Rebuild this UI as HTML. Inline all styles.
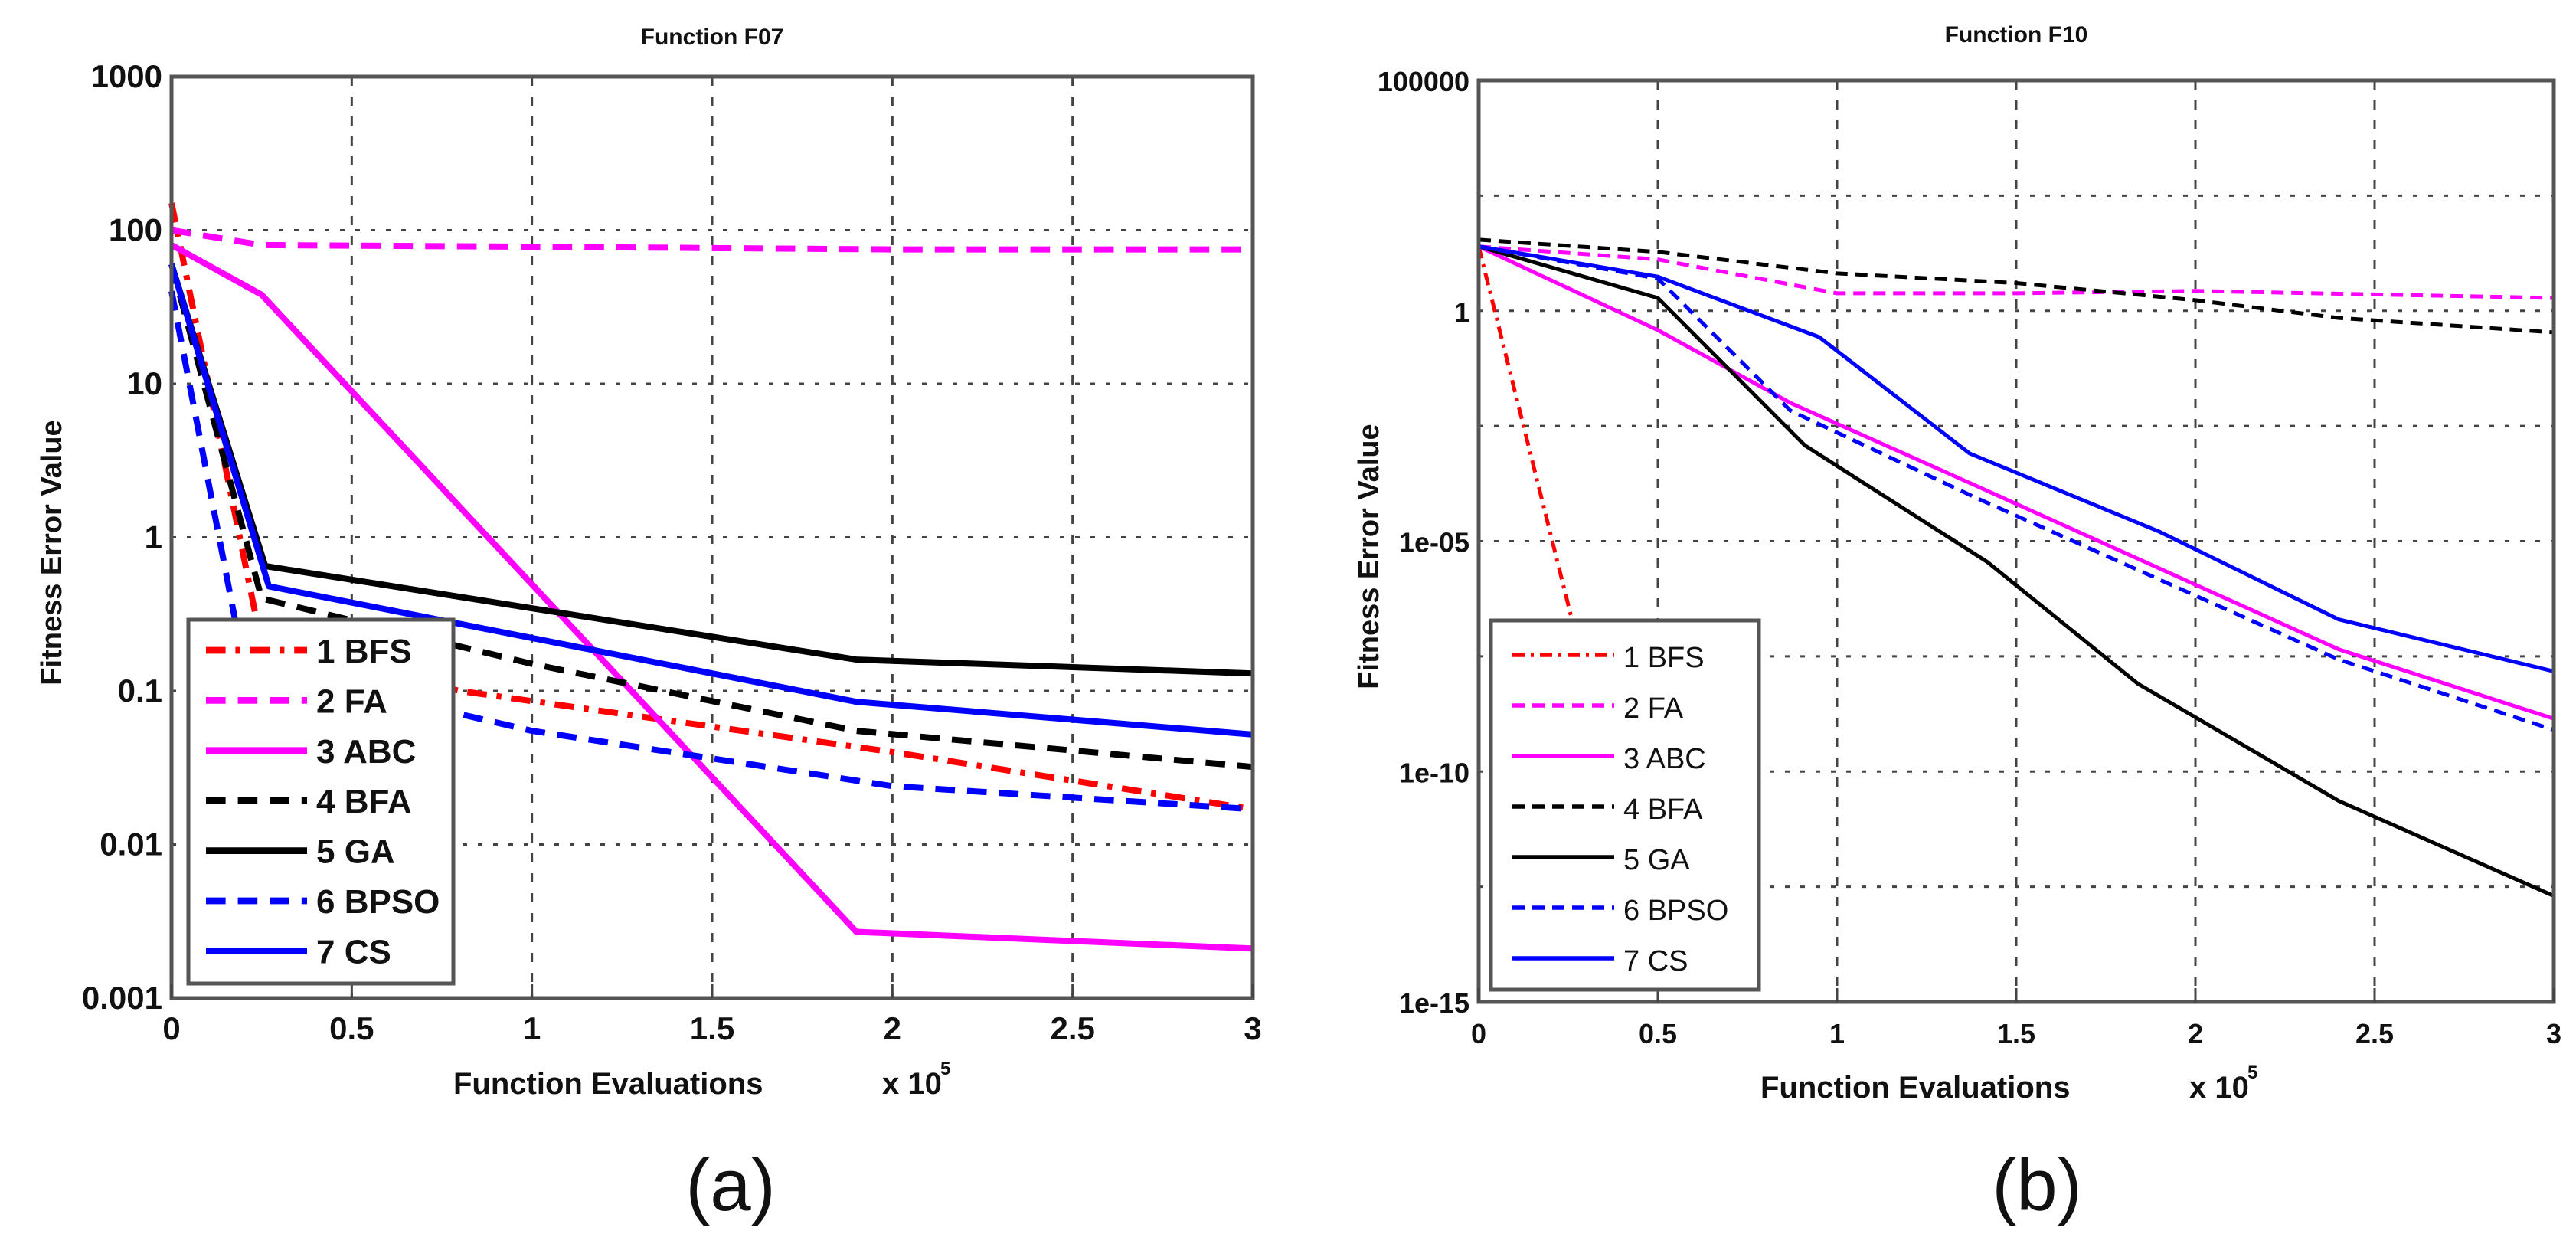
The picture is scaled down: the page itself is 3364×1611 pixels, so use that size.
<!DOCTYPE html>
<html><head><meta charset="utf-8"><style>
html,body{margin:0;padding:0;background:#fff;}
svg{display:block;}
text{font-family:"Liberation Sans Narrow","Liberation Sans",sans-serif;}
</style></head><body>
<svg id="fig" width="3364" height="1611" viewBox="0 0 3364 1611" xmlns="http://www.w3.org/2000/svg">
<g id="pa"></g>
<g id="pb"></g>
</svg>
<script>
// ---------- data ----------
const seriesNames = ["1 BFS","2 FA","3 ABC","4 BFA","5 GA","6 BPSO","7 CS"];
const seriesColors = ["#ff0000","#ff00ff","#ff00ff","#000000","#000000","#0000ff","#0000ff"];
const seriesDash = ["dashdot","dash","solid","dash","solid","dash","solid"];
const xTicks = [0,0.5,1,1.5,2,2.5,3];
const xTickLabels = ["0","0.5","1","1.5","2","2.5","3"];
// panel a (F07)
const aYTicks = [1000,100,10,1,0.1,0.01,0.001];
const aYTickLabels = ["1000","100","10","1","0.1","0.01","0.001"];
const aBFS_x=[0,0.25,0.8,2,3], aBFS_y=[150,0.2,0.1,0.04,0.017];
const aFA_x=[0,0.25,1,2,3], aFA_y=[100,80,78,75,75];
const aABC_x=[0,0.25,1.9,3], aABC_y=[80,38,0.0027,0.0021];
const aBFA_x=[0,0.25,1,1.9,3], aBFA_y=[60,0.4,0.15,0.055,0.032];
const aGA_x=[0,0.26,1.9,3], aGA_y=[60,0.65,0.16,0.13];
const aBPSO_x=[0,0.2,1,2,3], aBPSO_y=[40,0.15,0.055,0.024,0.017];
const aCS_x=[0,0.27,1.9,3], aCS_y=[60,0.48,0.085,0.052];
// panel b (F10)
const bYTicks = [1e5,1,1e-5,1e-10,1e-15];
const bYTickLabels = ["100000","1","1e-05","1e-10","1e-15"];
const bYGrid = [3.1623e2,1,3.1623e-3,1e-5,3.1623e-8,1e-10,3.1623e-13];
const bBFS_x=[0,0.26,0.4], bBFS_y=[25,2e-7,1e-11];
const bFA_x=[0,0.5,1,1.5,2,3], bFA_y=[25,13,2.4,2.4,2.7,1.9];
const bABC_x=[0,0.5,0.87,1.38,2.4,3], bABC_y=[25,0.38,0.01,1.7e-4,4.5e-8,1.4e-9];
const bBFA_x=[0,0.5,1,1.5,2,2.4,3], bBFA_y=[35,19,6.5,4,1.7,0.7,0.34];
const bGA_x=[0,0.5,0.91,1.42,1.84,2.4,3], bGA_y=[25,1.9,1.2e-3,3.5e-6,8e-9,2.3e-11,2e-13];
const bBPSO_x=[0,0.5,0.87,1.38,2.4,3], bBPSO_y=[25,5,6.8e-3,9.3e-5,2.7e-8,8e-10];
const bCS_x=[0,0.5,0.95,1.37,1.9,2.4,3], bCS_y=[25,5.5,0.27,8e-4,1.6e-5,2e-7,1.5e-8];

const NS="http://www.w3.org/2000/svg";
function el(tag,attrs,parent,txt){const e=document.createElementNS(NS,tag);for(const k in attrs)e.setAttribute(k,attrs[k]);if(txt!==undefined)e.textContent=txt;parent.appendChild(e);return e;}

function drawPanel(g,cfg){
  const L=cfg.left,R=cfg.right,T=cfg.top,B=cfg.bottom;
  const xs=v=>L+(v/3)*(R-L);
  const ys=v=>T+(cfg.lmax-Math.log10(v))/(cfg.lmax-cfg.lmin)*(B-T);
  xTicks.forEach((t,i)=>{ if(i>0&&i<xTicks.length-1){
    const ln=el('line',{x1:xs(t),x2:xs(t),y1:T,y2:B,stroke:'#444','stroke-width':3,'stroke-dasharray':'12 14'},g);
    
    
  }});
  cfg.yGrid.forEach(t=>{ const y=ys(t); if(y>T+2&&y<B-2){
    const ln=el('line',{x1:L,x2:R,y1:y,y2:y,stroke:'#444','stroke-width':3,'stroke-dasharray':'6 14'},g);
    
    
  }});
  const dashes={solid:'none',dash:cfg.lw*3.2+' '+cfg.lw*2,dashdot:cfg.lw*3.2+' '+cfg.lw*1.6+' '+cfg.lw*0.8+' '+cfg.lw*1.6};
  cfg.series.forEach((s,i)=>{
    let d='';
    for(let k=0;k<s[0].length;k++){d+=(k?'L':'M')+xs(s[0][k]).toFixed(1)+','+ys(s[1][k]).toFixed(1);}
    const p=el('path',{d:d,fill:'none',stroke:seriesColors[i],'stroke-width':cfg.lw,'stroke-dasharray':dashes[seriesDash[i]],'stroke-linejoin':'round'},g);
    
    
  });
  const fr=el('rect',{x:L,y:T,width:R-L,height:B-T,fill:'none',stroke:'#555','stroke-width':5},g);
  
  
  xTicks.forEach((t,i)=>{
    const tk=el('line',{x1:xs(t),x2:xs(t),y1:B,y2:B-18,stroke:'#444','stroke-width':3},g);
    
    
    const tx=el('text',{x:xs(t),y:B+54,'text-anchor':'middle','font-size':cfg.tfs,'font-weight':'bold',fill:'#111'},g,xTickLabels[i]);
    
    
  });
  cfg.yTicks.forEach((t,i)=>{
    const tx=el('text',{x:L-12,y:ys(t)+14,'text-anchor':'end','font-size':cfg.tfs,'font-weight':'bold',fill:'#111'},g,cfg.yTickLabels[i]);
    
    
  });
  const ti=el('text',{x:(L+R)/2,y:cfg.titleY,'text-anchor':'middle','font-size':30,'font-weight':'bold',fill:'#111'},g,cfg.title);
  
  
  const xl=el('text',{x:L+368,y:B+125,'font-size':40,'font-weight':'bold',fill:'#111'},g,'Function Evaluations');
  
  
  const xm=el('text',{x:L+928,y:B+125,'font-size':40,'font-weight':'bold',fill:'#111'},g,'x 10');
  
  
  const xe=el('text',{x:L+1004,y:B+100,'font-size':24,'font-weight':'bold',fill:'#111'},g,'5');
  
  
  const yl=el('text',{x:0,y:0,'text-anchor':'middle','font-size':38,'font-weight':'bold',fill:'#111',transform:'translate('+cfg.ylabX+','+((T+B)/2+20)+') rotate(-90)'},g,'Fitness Error Value');
  
  
  const pl=el('text',{x:cfg.capX,y:1580,'text-anchor':'middle','font-size':96,'font-family':'Liberation Sans, sans-serif',fill:'#111'},g,cfg.cap);
  
  
  const lg=el('g',{},g);
  
  
  const lr=el('rect',{x:cfg.lg[0],y:cfg.lg[1],width:cfg.lg[2],height:cfg.lg[3],fill:'#fff',stroke:'#555','stroke-width':5},lg);
  
  
  seriesNames.forEach((n,i)=>{
    const y=cfg.lgY0+i*cfg.lgStep;
    const ls=el('line',{x1:cfg.lgX1,x2:cfg.lgX2,y1:y,y2:y,stroke:seriesColors[i],'stroke-width':cfg.lw*1.1,'stroke-dasharray':dashes[seriesDash[i]]},lg);
    
    
    const lt=el('text',{x:cfg.lgX2+12,y:y+16,'font-size':cfg.lfs,'font-weight':cfg.lfw,fill:'#111'},lg,n);
    
    
  });
}

drawPanel(document.getElementById('pa'),{left:224,right:1636,top:100,bottom:1303,lmax:3,lmin:-3,
  yTicks:aYTicks,yTickLabels:aYTickLabels,yGrid:aYTicks,title:'Function F07',titleY:58,ylabX:80,cap:'(a)',capX:954,
  lw:8,tfs:42,lfs:44,lfw:'bold',lg:[246,809,346,475],lgY0:849,lgStep:65.4,lgX1:269,lgX2:401,
  series:[[aBFS_x,aBFS_y],[aFA_x,aFA_y],[aABC_x,aABC_y],[aBFA_x,aBFA_y],[aGA_x,aGA_y],[aBPSO_x,aBPSO_y],[aCS_x,aCS_y]]});
drawPanel(document.getElementById('pb'),{left:1931,right:3335,top:105,bottom:1308,lmax:5,lmin:-15,
  yTicks:bYTicks,yTickLabels:bYTickLabels,yGrid:bYGrid,title:'Function F10',titleY:55,ylabX:1800,cap:'(b)',capX:2660,
  lw:5,tfs:36,lfs:38,lfw:'normal',lg:[1947,810,350,482],lgY0:855,lgStep:66,lgX1:1975,lgX2:2108,
  series:[[bBFS_x,bBFS_y],[bFA_x,bFA_y],[bABC_x,bABC_y],[bBFA_x,bBFA_y],[bGA_x,bGA_y],[bBPSO_x,bBPSO_y],[bCS_x,bCS_y]]});
</script>
</body></html>
